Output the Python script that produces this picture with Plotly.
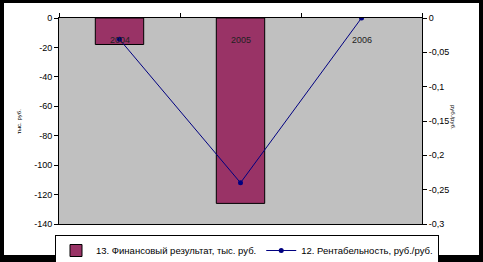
import plotly.graph_objects as go

years = ["2004", "2005", "2006"]
fin_result = [-18, -126, 0]
profitability = [-0.031, -0.24, 0.0]
left_ticks = [0, -20, -40, -60, -80, -100, -120, -140]
left_labels = ["0", "-20", "-40", "-60", "-80", "-100", "-120", "-140"]
right_ticks = [0, -0.05, -0.1, -0.15, -0.2, -0.25, -0.3]
right_labels = ["0", "-0,05", "-0,1", "-0,15", "-0,2", "-0,25", "-0,3"]

W, H = 483, 262
ML, MR, MT, MB = 59, 61, 18, 38
PW, PH = W - ML - MR, H - MT - MB

def px(x):
    return (x - ML) / PW

def py(y):
    return 1 - (y - MT) / PH

FONT = "Liberation Sans, Arial, sans-serif"

fig = go.Figure()
fig.add_trace(go.Bar(
    x=years, y=fin_result, name="13. Финансовый результат, тыс. руб.",
    width=0.4,
    marker=dict(color="#993366",
                line=dict(color="black", width=[1 if v != 0 else 0 for v in fin_result])),
    yaxis="y",
))
fig.add_trace(go.Scatter(
    x=years, y=profitability, name="12. Рентабельность, руб./руб.",
    mode="lines+markers", line=dict(color="#000080", width=1),
    marker=dict(color="#000080", size=5, symbol="circle"),
    yaxis="y2",
))

shapes = [
    dict(type="rect", xref="paper", yref="paper", x0=px(0), x1=px(W), y0=py(0), y1=py(3),
         fillcolor="black", line_width=0, layer="above"),
    dict(type="rect", xref="paper", yref="paper", x0=px(0), x1=px(W), y0=py(255), y1=py(H),
         fillcolor="black", line_width=0, layer="above"),
    dict(type="rect", xref="paper", yref="paper", x0=px(0), x1=px(4), y0=py(0), y1=py(H),
         fillcolor="black", line_width=0, layer="above"),
    dict(type="rect", xref="paper", yref="paper", x0=px(479), x1=px(W), y0=py(0), y1=py(H),
         fillcolor="black", line_width=0, layer="above"),
]

annotations = [
    dict(text="тыс. руб.", xref="paper", yref="paper", x=px(14), y=py(122), textangle=-90,
         showarrow=False, font=dict(size=6, color="black", family=FONT)),
    dict(text="руб./руб.", xref="paper", yref="paper", x=px(458), y=py(118), textangle=90,
         showarrow=False, font=dict(size=6, color="black", family=FONT)),
]
for i, yr in enumerate(years):
    annotations.append(dict(text=yr, xref="x", yref="paper", x=i, y=py(33),
                            showarrow=False, font=dict(size=9, color="#222222", family=FONT)))

fig.update_layout(
    width=W, height=H,
    margin=dict(l=ML, r=MR, t=MT, b=MB, pad=0, autoexpand=False),
    paper_bgcolor="white", plot_bgcolor="#C0C0C0",
    font=dict(family=FONT, size=9, color="black"),
    showlegend=True,
    legend=dict(
        orientation="h", x=px(55), xanchor="left", y=py(235), yanchor="top",
        bgcolor="white", bordercolor="black", borderwidth=1,
        font=dict(size=9.5, family=FONT), itemwidth=30, tracegroupgap=0,
    ),
    xaxis=dict(
        type="category", side="top", showline=True, linecolor="black", linewidth=1,
        mirror=True, ticks="outside", tickson="boundaries", ticklen=4, tickcolor="black",
        showticklabels=False, showgrid=False,
    ),
    yaxis=dict(
        range=[-140, 0], tickvals=left_ticks, ticktext=left_labels,
        ticks="outside", ticklen=4, tickcolor="black",
        showline=True, linecolor="black", linewidth=1, showgrid=False, zeroline=False,
        tickfont=dict(size=9),
    ),
    yaxis2=dict(
        range=[-0.3, 0], tickvals=right_ticks, ticktext=right_labels,
        overlaying="y", side="right",
        ticks="outside", ticklen=4, tickcolor="black",
        showline=True, linecolor="black", linewidth=1, showgrid=False, zeroline=False,
        tickfont=dict(size=9),
    ),
    shapes=shapes, annotations=annotations,
)

fig.write_html("out.html")
